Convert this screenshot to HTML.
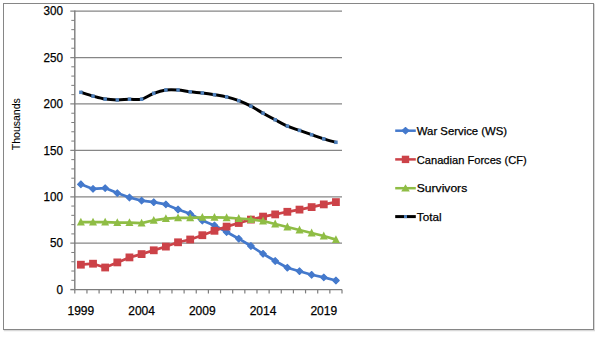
<!DOCTYPE html>
<html><head><meta charset="utf-8"><style>
html,body{margin:0;padding:0;background:#fff;width:595px;height:345px;overflow:hidden;}
svg{display:block;}
</style></head><body>
<svg width="595" height="345" viewBox="0 0 595 345">
<rect x="4.5" y="4.5" width="590" height="326" fill="none" stroke="#d8d8d8" stroke-width="1.5"/>
<rect x="3.5" y="3.5" width="590" height="326" fill="#fff" stroke="#868686" stroke-width="1"/>
<line x1="70.30" y1="243.18" x2="342.00" y2="243.18" stroke="#868686" stroke-width="1.25"/>
<line x1="70.30" y1="196.77" x2="342.00" y2="196.77" stroke="#868686" stroke-width="1.25"/>
<line x1="70.30" y1="150.35" x2="342.00" y2="150.35" stroke="#868686" stroke-width="1.25"/>
<line x1="70.30" y1="103.93" x2="342.00" y2="103.93" stroke="#868686" stroke-width="1.25"/>
<line x1="70.30" y1="57.52" x2="342.00" y2="57.52" stroke="#868686" stroke-width="1.25"/>
<line x1="70.30" y1="11.10" x2="342.00" y2="11.10" stroke="#868686" stroke-width="1.25"/>
<line x1="71.30" y1="280.32" x2="74.80" y2="280.32" stroke="#7d7d7d" stroke-width="1"/>
<line x1="71.30" y1="271.03" x2="74.80" y2="271.03" stroke="#7d7d7d" stroke-width="1"/>
<line x1="71.30" y1="261.75" x2="74.80" y2="261.75" stroke="#7d7d7d" stroke-width="1"/>
<line x1="71.30" y1="252.47" x2="74.80" y2="252.47" stroke="#7d7d7d" stroke-width="1"/>
<line x1="71.30" y1="233.90" x2="74.80" y2="233.90" stroke="#7d7d7d" stroke-width="1"/>
<line x1="71.30" y1="224.62" x2="74.80" y2="224.62" stroke="#7d7d7d" stroke-width="1"/>
<line x1="71.30" y1="215.33" x2="74.80" y2="215.33" stroke="#7d7d7d" stroke-width="1"/>
<line x1="71.30" y1="206.05" x2="74.80" y2="206.05" stroke="#7d7d7d" stroke-width="1"/>
<line x1="71.30" y1="187.48" x2="74.80" y2="187.48" stroke="#7d7d7d" stroke-width="1"/>
<line x1="71.30" y1="178.20" x2="74.80" y2="178.20" stroke="#7d7d7d" stroke-width="1"/>
<line x1="71.30" y1="168.92" x2="74.80" y2="168.92" stroke="#7d7d7d" stroke-width="1"/>
<line x1="71.30" y1="159.63" x2="74.80" y2="159.63" stroke="#7d7d7d" stroke-width="1"/>
<line x1="71.30" y1="141.07" x2="74.80" y2="141.07" stroke="#7d7d7d" stroke-width="1"/>
<line x1="71.30" y1="131.78" x2="74.80" y2="131.78" stroke="#7d7d7d" stroke-width="1"/>
<line x1="71.30" y1="122.50" x2="74.80" y2="122.50" stroke="#7d7d7d" stroke-width="1"/>
<line x1="71.30" y1="113.22" x2="74.80" y2="113.22" stroke="#7d7d7d" stroke-width="1"/>
<line x1="71.30" y1="94.65" x2="74.80" y2="94.65" stroke="#7d7d7d" stroke-width="1"/>
<line x1="71.30" y1="85.37" x2="74.80" y2="85.37" stroke="#7d7d7d" stroke-width="1"/>
<line x1="71.30" y1="76.08" x2="74.80" y2="76.08" stroke="#7d7d7d" stroke-width="1"/>
<line x1="71.30" y1="66.80" x2="74.80" y2="66.80" stroke="#7d7d7d" stroke-width="1"/>
<line x1="71.30" y1="48.23" x2="74.80" y2="48.23" stroke="#7d7d7d" stroke-width="1"/>
<line x1="71.30" y1="38.95" x2="74.80" y2="38.95" stroke="#7d7d7d" stroke-width="1"/>
<line x1="71.30" y1="29.67" x2="74.80" y2="29.67" stroke="#7d7d7d" stroke-width="1"/>
<line x1="71.30" y1="20.38" x2="74.80" y2="20.38" stroke="#7d7d7d" stroke-width="1"/>
<line x1="70.30" y1="289.60" x2="74.80" y2="289.60" stroke="#7d7d7d" stroke-width="1.4"/>
<line x1="74.80" y1="10.40" x2="74.80" y2="289.60" stroke="#7d7d7d" stroke-width="1.4"/>
<line x1="74.80" y1="289.60" x2="342.00" y2="289.60" stroke="#7d7d7d" stroke-width="1.4"/>
<line x1="74.80" y1="289.60" x2="74.80" y2="293.40" stroke="#7d7d7d" stroke-width="1.2"/>
<line x1="86.95" y1="289.60" x2="86.95" y2="293.40" stroke="#7d7d7d" stroke-width="1.2"/>
<line x1="99.09" y1="289.60" x2="99.09" y2="293.40" stroke="#7d7d7d" stroke-width="1.2"/>
<line x1="111.24" y1="289.60" x2="111.24" y2="293.40" stroke="#7d7d7d" stroke-width="1.2"/>
<line x1="123.38" y1="289.60" x2="123.38" y2="293.40" stroke="#7d7d7d" stroke-width="1.2"/>
<line x1="135.53" y1="289.60" x2="135.53" y2="293.40" stroke="#7d7d7d" stroke-width="1.2"/>
<line x1="147.67" y1="289.60" x2="147.67" y2="293.40" stroke="#7d7d7d" stroke-width="1.2"/>
<line x1="159.82" y1="289.60" x2="159.82" y2="293.40" stroke="#7d7d7d" stroke-width="1.2"/>
<line x1="171.96" y1="289.60" x2="171.96" y2="293.40" stroke="#7d7d7d" stroke-width="1.2"/>
<line x1="184.11" y1="289.60" x2="184.11" y2="293.40" stroke="#7d7d7d" stroke-width="1.2"/>
<line x1="196.25" y1="289.60" x2="196.25" y2="293.40" stroke="#7d7d7d" stroke-width="1.2"/>
<line x1="208.40" y1="289.60" x2="208.40" y2="293.40" stroke="#7d7d7d" stroke-width="1.2"/>
<line x1="220.55" y1="289.60" x2="220.55" y2="293.40" stroke="#7d7d7d" stroke-width="1.2"/>
<line x1="232.69" y1="289.60" x2="232.69" y2="293.40" stroke="#7d7d7d" stroke-width="1.2"/>
<line x1="244.84" y1="289.60" x2="244.84" y2="293.40" stroke="#7d7d7d" stroke-width="1.2"/>
<line x1="256.98" y1="289.60" x2="256.98" y2="293.40" stroke="#7d7d7d" stroke-width="1.2"/>
<line x1="269.13" y1="289.60" x2="269.13" y2="293.40" stroke="#7d7d7d" stroke-width="1.2"/>
<line x1="281.27" y1="289.60" x2="281.27" y2="293.40" stroke="#7d7d7d" stroke-width="1.2"/>
<line x1="293.42" y1="289.60" x2="293.42" y2="293.40" stroke="#7d7d7d" stroke-width="1.2"/>
<line x1="305.56" y1="289.60" x2="305.56" y2="293.40" stroke="#7d7d7d" stroke-width="1.2"/>
<line x1="317.71" y1="289.60" x2="317.71" y2="293.40" stroke="#7d7d7d" stroke-width="1.2"/>
<line x1="329.85" y1="289.60" x2="329.85" y2="293.40" stroke="#7d7d7d" stroke-width="1.2"/>
<line x1="342.00" y1="289.60" x2="342.00" y2="293.40" stroke="#7d7d7d" stroke-width="1.2"/>
<text x="56.60" y="293.90" font-family="Liberation Sans, sans-serif" font-size="12.4" textLength="6.50" lengthAdjust="spacingAndGlyphs" fill="#000" stroke="#000" stroke-width="0.25">0</text>
<text x="50.10" y="247.48" font-family="Liberation Sans, sans-serif" font-size="12.4" textLength="13.00" lengthAdjust="spacingAndGlyphs" fill="#000" stroke="#000" stroke-width="0.25">50</text>
<text x="43.60" y="201.07" font-family="Liberation Sans, sans-serif" font-size="12.4" textLength="19.50" lengthAdjust="spacingAndGlyphs" fill="#000" stroke="#000" stroke-width="0.25">100</text>
<text x="43.60" y="154.65" font-family="Liberation Sans, sans-serif" font-size="12.4" textLength="19.50" lengthAdjust="spacingAndGlyphs" fill="#000" stroke="#000" stroke-width="0.25">150</text>
<text x="43.60" y="108.23" font-family="Liberation Sans, sans-serif" font-size="12.4" textLength="19.50" lengthAdjust="spacingAndGlyphs" fill="#000" stroke="#000" stroke-width="0.25">200</text>
<text x="43.60" y="61.82" font-family="Liberation Sans, sans-serif" font-size="12.4" textLength="19.50" lengthAdjust="spacingAndGlyphs" fill="#000" stroke="#000" stroke-width="0.25">250</text>
<text x="43.60" y="15.40" font-family="Liberation Sans, sans-serif" font-size="12.4" textLength="19.50" lengthAdjust="spacingAndGlyphs" fill="#000" stroke="#000" stroke-width="0.25">300</text>
<text x="67.47" y="314.6" font-family="Liberation Sans, sans-serif" font-size="12.4" textLength="26.8" lengthAdjust="spacingAndGlyphs" fill="#000" stroke="#000" stroke-width="0.25">1999</text>
<text x="128.20" y="314.6" font-family="Liberation Sans, sans-serif" font-size="12.4" textLength="26.8" lengthAdjust="spacingAndGlyphs" fill="#000" stroke="#000" stroke-width="0.25">2004</text>
<text x="188.93" y="314.6" font-family="Liberation Sans, sans-serif" font-size="12.4" textLength="26.8" lengthAdjust="spacingAndGlyphs" fill="#000" stroke="#000" stroke-width="0.25">2009</text>
<text x="249.65" y="314.6" font-family="Liberation Sans, sans-serif" font-size="12.4" textLength="26.8" lengthAdjust="spacingAndGlyphs" fill="#000" stroke="#000" stroke-width="0.25">2014</text>
<text x="310.38" y="314.6" font-family="Liberation Sans, sans-serif" font-size="12.4" textLength="26.8" lengthAdjust="spacingAndGlyphs" fill="#000" stroke="#000" stroke-width="0.25">2019</text>
<text transform="translate(20.3,124.2) rotate(-90)" font-family="Liberation Sans, sans-serif" font-size="11.3" text-anchor="middle" textLength="52" lengthAdjust="spacingAndGlyphs" fill="#000" stroke="#000" stroke-width="0.1">Thousands</text>
<polyline points="80.87,184.30 93.02,188.90 105.16,188.10 117.31,193.10 129.45,197.50 141.60,200.60 153.75,202.20 165.89,204.40 178.04,209.50 190.18,213.80 202.33,220.60 214.47,225.40 226.62,232.00 238.76,238.70 250.91,246.00 263.05,253.80 275.20,261.00 287.35,267.70 299.49,271.20 311.64,274.80 323.78,277.40 335.93,280.50" fill="none" stroke="#4479cc" stroke-width="2.7" stroke-linejoin="round"/>
<path d="M80.87,181.00 L84.17,184.30 L80.87,187.60 L77.57,184.30Z" fill="#4479cc" stroke="#4479cc" stroke-width="1.1" stroke-linejoin="round"/>
<path d="M93.02,185.60 L96.32,188.90 L93.02,192.20 L89.72,188.90Z" fill="#4479cc" stroke="#4479cc" stroke-width="1.1" stroke-linejoin="round"/>
<path d="M105.16,184.80 L108.46,188.10 L105.16,191.40 L101.86,188.10Z" fill="#4479cc" stroke="#4479cc" stroke-width="1.1" stroke-linejoin="round"/>
<path d="M117.31,189.80 L120.61,193.10 L117.31,196.40 L114.01,193.10Z" fill="#4479cc" stroke="#4479cc" stroke-width="1.1" stroke-linejoin="round"/>
<path d="M129.45,194.20 L132.75,197.50 L129.45,200.80 L126.15,197.50Z" fill="#4479cc" stroke="#4479cc" stroke-width="1.1" stroke-linejoin="round"/>
<path d="M141.60,197.30 L144.90,200.60 L141.60,203.90 L138.30,200.60Z" fill="#4479cc" stroke="#4479cc" stroke-width="1.1" stroke-linejoin="round"/>
<path d="M153.75,198.90 L157.05,202.20 L153.75,205.50 L150.45,202.20Z" fill="#4479cc" stroke="#4479cc" stroke-width="1.1" stroke-linejoin="round"/>
<path d="M165.89,201.10 L169.19,204.40 L165.89,207.70 L162.59,204.40Z" fill="#4479cc" stroke="#4479cc" stroke-width="1.1" stroke-linejoin="round"/>
<path d="M178.04,206.20 L181.34,209.50 L178.04,212.80 L174.74,209.50Z" fill="#4479cc" stroke="#4479cc" stroke-width="1.1" stroke-linejoin="round"/>
<path d="M190.18,210.50 L193.48,213.80 L190.18,217.10 L186.88,213.80Z" fill="#4479cc" stroke="#4479cc" stroke-width="1.1" stroke-linejoin="round"/>
<path d="M202.33,217.30 L205.63,220.60 L202.33,223.90 L199.03,220.60Z" fill="#4479cc" stroke="#4479cc" stroke-width="1.1" stroke-linejoin="round"/>
<path d="M214.47,222.10 L217.77,225.40 L214.47,228.70 L211.17,225.40Z" fill="#4479cc" stroke="#4479cc" stroke-width="1.1" stroke-linejoin="round"/>
<path d="M226.62,228.70 L229.92,232.00 L226.62,235.30 L223.32,232.00Z" fill="#4479cc" stroke="#4479cc" stroke-width="1.1" stroke-linejoin="round"/>
<path d="M238.76,235.40 L242.06,238.70 L238.76,242.00 L235.46,238.70Z" fill="#4479cc" stroke="#4479cc" stroke-width="1.1" stroke-linejoin="round"/>
<path d="M250.91,242.70 L254.21,246.00 L250.91,249.30 L247.61,246.00Z" fill="#4479cc" stroke="#4479cc" stroke-width="1.1" stroke-linejoin="round"/>
<path d="M263.05,250.50 L266.35,253.80 L263.05,257.10 L259.75,253.80Z" fill="#4479cc" stroke="#4479cc" stroke-width="1.1" stroke-linejoin="round"/>
<path d="M275.20,257.70 L278.50,261.00 L275.20,264.30 L271.90,261.00Z" fill="#4479cc" stroke="#4479cc" stroke-width="1.1" stroke-linejoin="round"/>
<path d="M287.35,264.40 L290.65,267.70 L287.35,271.00 L284.05,267.70Z" fill="#4479cc" stroke="#4479cc" stroke-width="1.1" stroke-linejoin="round"/>
<path d="M299.49,267.90 L302.79,271.20 L299.49,274.50 L296.19,271.20Z" fill="#4479cc" stroke="#4479cc" stroke-width="1.1" stroke-linejoin="round"/>
<path d="M311.64,271.50 L314.94,274.80 L311.64,278.10 L308.34,274.80Z" fill="#4479cc" stroke="#4479cc" stroke-width="1.1" stroke-linejoin="round"/>
<path d="M323.78,274.10 L327.08,277.40 L323.78,280.70 L320.48,277.40Z" fill="#4479cc" stroke="#4479cc" stroke-width="1.1" stroke-linejoin="round"/>
<path d="M335.93,277.20 L339.23,280.50 L335.93,283.80 L332.63,280.50Z" fill="#4479cc" stroke="#4479cc" stroke-width="1.1" stroke-linejoin="round"/>
<polyline points="80.87,264.70 93.02,263.70 105.16,267.50 117.31,262.40 129.45,257.40 141.60,254.10 153.75,250.30 165.89,246.60 178.04,242.30 190.18,239.50 202.33,235.20 214.47,230.80 226.62,226.60 238.76,223.00 250.91,219.60 263.05,216.60 275.20,214.40 287.35,211.80 299.49,209.60 311.64,207.10 323.78,204.40 335.93,202.10" fill="none" stroke="#cc4248" stroke-width="2.7" stroke-linejoin="round"/>
<rect x="76.97" y="260.80" width="7.80" height="7.80" fill="#cc4248"/>
<rect x="89.12" y="259.80" width="7.80" height="7.80" fill="#cc4248"/>
<rect x="101.26" y="263.60" width="7.80" height="7.80" fill="#cc4248"/>
<rect x="113.41" y="258.50" width="7.80" height="7.80" fill="#cc4248"/>
<rect x="125.55" y="253.50" width="7.80" height="7.80" fill="#cc4248"/>
<rect x="137.70" y="250.20" width="7.80" height="7.80" fill="#cc4248"/>
<rect x="149.85" y="246.40" width="7.80" height="7.80" fill="#cc4248"/>
<rect x="161.99" y="242.70" width="7.80" height="7.80" fill="#cc4248"/>
<rect x="174.14" y="238.40" width="7.80" height="7.80" fill="#cc4248"/>
<rect x="186.28" y="235.60" width="7.80" height="7.80" fill="#cc4248"/>
<rect x="198.43" y="231.30" width="7.80" height="7.80" fill="#cc4248"/>
<rect x="210.57" y="226.90" width="7.80" height="7.80" fill="#cc4248"/>
<rect x="222.72" y="222.70" width="7.80" height="7.80" fill="#cc4248"/>
<rect x="234.86" y="219.10" width="7.80" height="7.80" fill="#cc4248"/>
<rect x="247.01" y="215.70" width="7.80" height="7.80" fill="#cc4248"/>
<rect x="259.15" y="212.70" width="7.80" height="7.80" fill="#cc4248"/>
<rect x="271.30" y="210.50" width="7.80" height="7.80" fill="#cc4248"/>
<rect x="283.45" y="207.90" width="7.80" height="7.80" fill="#cc4248"/>
<rect x="295.59" y="205.70" width="7.80" height="7.80" fill="#cc4248"/>
<rect x="307.74" y="203.20" width="7.80" height="7.80" fill="#cc4248"/>
<rect x="319.88" y="200.50" width="7.80" height="7.80" fill="#cc4248"/>
<rect x="332.03" y="198.20" width="7.80" height="7.80" fill="#cc4248"/>
<polyline points="80.87,222.10 93.02,222.10 105.16,222.10 117.31,222.60 129.45,222.60 141.60,223.10 153.75,220.30 165.89,218.60 178.04,217.80 190.18,217.80 202.33,217.30 214.47,217.30 226.62,217.70 238.76,218.50 250.91,219.40 263.05,221.00 275.20,224.00 287.35,227.00 299.49,230.00 311.64,233.00 323.78,236.00 335.93,239.60" fill="none" stroke="#8fbd45" stroke-width="2.7" stroke-linejoin="round"/>
<path d="M80.87,217.70 L84.87,225.60 L76.87,225.60Z" fill="#8fbd45"/>
<path d="M93.02,217.70 L97.02,225.60 L89.02,225.60Z" fill="#8fbd45"/>
<path d="M105.16,217.70 L109.16,225.60 L101.16,225.60Z" fill="#8fbd45"/>
<path d="M117.31,218.20 L121.31,226.10 L113.31,226.10Z" fill="#8fbd45"/>
<path d="M129.45,218.20 L133.45,226.10 L125.45,226.10Z" fill="#8fbd45"/>
<path d="M141.60,218.70 L145.60,226.60 L137.60,226.60Z" fill="#8fbd45"/>
<path d="M153.75,215.90 L157.75,223.80 L149.75,223.80Z" fill="#8fbd45"/>
<path d="M165.89,214.20 L169.89,222.10 L161.89,222.10Z" fill="#8fbd45"/>
<path d="M178.04,213.40 L182.04,221.30 L174.04,221.30Z" fill="#8fbd45"/>
<path d="M190.18,213.40 L194.18,221.30 L186.18,221.30Z" fill="#8fbd45"/>
<path d="M202.33,212.90 L206.33,220.80 L198.33,220.80Z" fill="#8fbd45"/>
<path d="M214.47,212.90 L218.47,220.80 L210.47,220.80Z" fill="#8fbd45"/>
<path d="M226.62,213.30 L230.62,221.20 L222.62,221.20Z" fill="#8fbd45"/>
<path d="M238.76,214.10 L242.76,222.00 L234.76,222.00Z" fill="#8fbd45"/>
<path d="M250.91,215.00 L254.91,222.90 L246.91,222.90Z" fill="#8fbd45"/>
<path d="M263.05,216.60 L267.05,224.50 L259.05,224.50Z" fill="#8fbd45"/>
<path d="M275.20,219.60 L279.20,227.50 L271.20,227.50Z" fill="#8fbd45"/>
<path d="M287.35,222.60 L291.35,230.50 L283.35,230.50Z" fill="#8fbd45"/>
<path d="M299.49,225.60 L303.49,233.50 L295.49,233.50Z" fill="#8fbd45"/>
<path d="M311.64,228.60 L315.64,236.50 L307.64,236.50Z" fill="#8fbd45"/>
<path d="M323.78,231.60 L327.78,239.50 L319.78,239.50Z" fill="#8fbd45"/>
<path d="M335.93,235.20 L339.93,243.10 L331.93,243.10Z" fill="#8fbd45"/>
<path d="M80.87,92.30 C82.90,92.93 88.97,94.97 93.02,96.10 C97.07,97.23 101.12,98.47 105.16,99.10 C109.21,99.73 113.26,99.88 117.31,99.90 C121.36,99.92 125.41,99.32 129.45,99.20 C133.50,99.08 137.55,100.18 141.60,99.20 C145.65,98.22 149.70,94.83 153.75,93.30 C157.79,91.77 161.84,90.55 165.89,90.00 C169.94,89.45 173.99,89.70 178.04,90.00 C182.08,90.30 186.13,91.30 190.18,91.80 C194.23,92.30 198.28,92.52 202.33,93.00 C206.38,93.48 210.42,94.05 214.47,94.70 C218.52,95.35 222.57,95.90 226.62,96.90 C230.67,97.90 234.72,99.15 238.76,100.70 C242.81,102.25 246.86,104.12 250.91,106.20 C254.96,108.28 259.01,110.93 263.05,113.20 C267.10,115.47 271.15,117.65 275.20,119.80 C279.25,121.95 283.30,124.33 287.35,126.10 C291.39,127.87 295.44,128.97 299.49,130.40 C303.54,131.83 307.59,133.28 311.64,134.70 C315.68,136.12 319.73,137.63 323.78,138.90 C327.83,140.17 333.90,141.73 335.93,142.30" fill="none" stroke="#000" stroke-width="3.0"/>
<rect x="79.12" y="90.55" width="3.50" height="3.50" fill="#4f81bd"/>
<rect x="91.27" y="94.35" width="3.50" height="3.50" fill="#4f81bd"/>
<rect x="103.41" y="97.35" width="3.50" height="3.50" fill="#4f81bd"/>
<rect x="115.56" y="98.15" width="3.50" height="3.50" fill="#4f81bd"/>
<rect x="127.70" y="97.45" width="3.50" height="3.50" fill="#4f81bd"/>
<rect x="139.85" y="97.45" width="3.50" height="3.50" fill="#4f81bd"/>
<rect x="152.00" y="91.55" width="3.50" height="3.50" fill="#4f81bd"/>
<rect x="164.14" y="88.25" width="3.50" height="3.50" fill="#4f81bd"/>
<rect x="176.29" y="88.25" width="3.50" height="3.50" fill="#4f81bd"/>
<rect x="188.43" y="90.05" width="3.50" height="3.50" fill="#4f81bd"/>
<rect x="200.58" y="91.25" width="3.50" height="3.50" fill="#4f81bd"/>
<rect x="212.72" y="92.95" width="3.50" height="3.50" fill="#4f81bd"/>
<rect x="224.87" y="95.15" width="3.50" height="3.50" fill="#4f81bd"/>
<rect x="237.01" y="98.95" width="3.50" height="3.50" fill="#4f81bd"/>
<rect x="249.16" y="104.45" width="3.50" height="3.50" fill="#4f81bd"/>
<rect x="261.30" y="111.45" width="3.50" height="3.50" fill="#4f81bd"/>
<rect x="273.45" y="118.05" width="3.50" height="3.50" fill="#4f81bd"/>
<rect x="285.60" y="124.35" width="3.50" height="3.50" fill="#4f81bd"/>
<rect x="297.74" y="128.65" width="3.50" height="3.50" fill="#4f81bd"/>
<rect x="309.89" y="132.95" width="3.50" height="3.50" fill="#4f81bd"/>
<rect x="322.03" y="137.15" width="3.50" height="3.50" fill="#4f81bd"/>
<rect x="334.18" y="140.55" width="3.50" height="3.50" fill="#4f81bd"/>
<line x1="395.2" y1="130.7" x2="415.8" y2="130.7" stroke="#4479cc" stroke-width="2.5"/>
<path d="M405.50,127.50 L409.00,130.70 L405.50,133.90 L402.00,130.70Z" fill="#4479cc" stroke="#4479cc" stroke-width="1.1" stroke-linejoin="round"/>
<text x="416.8" y="135.10" font-family="Liberation Sans, sans-serif" font-size="11.5" textLength="90.3" lengthAdjust="spacingAndGlyphs" fill="#000" stroke="#000" stroke-width="0.25">War Service (WS)</text>
<line x1="395.2" y1="159.4" x2="415.8" y2="159.4" stroke="#cc4248" stroke-width="2.5"/>
<rect x="401.80" y="155.70" width="7.40" height="7.40" fill="#cc4248"/>
<text x="416.8" y="163.90" font-family="Liberation Sans, sans-serif" font-size="11.5" textLength="109.9" lengthAdjust="spacingAndGlyphs" fill="#000" stroke="#000" stroke-width="0.25">Canadian Forces (CF)</text>
<line x1="395.2" y1="188.2" x2="415.8" y2="188.2" stroke="#8fbd45" stroke-width="2.5"/>
<path d="M405.50,184.20 L409.80,191.60 L401.20,191.60Z" fill="#8fbd45"/>
<text x="416.8" y="192.20" font-family="Liberation Sans, sans-serif" font-size="11.5" textLength="50.4" lengthAdjust="spacingAndGlyphs" fill="#000" stroke="#000" stroke-width="0.25">Survivors</text>
<line x1="395.2" y1="216.6" x2="415.8" y2="216.6" stroke="#000" stroke-width="3.0"/>
<rect x="404.00" y="215.10" width="3" height="3" fill="#4f81bd"/>
<text x="416.8" y="221.30" font-family="Liberation Sans, sans-serif" font-size="11.5" textLength="24.7" lengthAdjust="spacingAndGlyphs" fill="#000" stroke="#000" stroke-width="0.25">Total</text>
</svg>
</body></html>
